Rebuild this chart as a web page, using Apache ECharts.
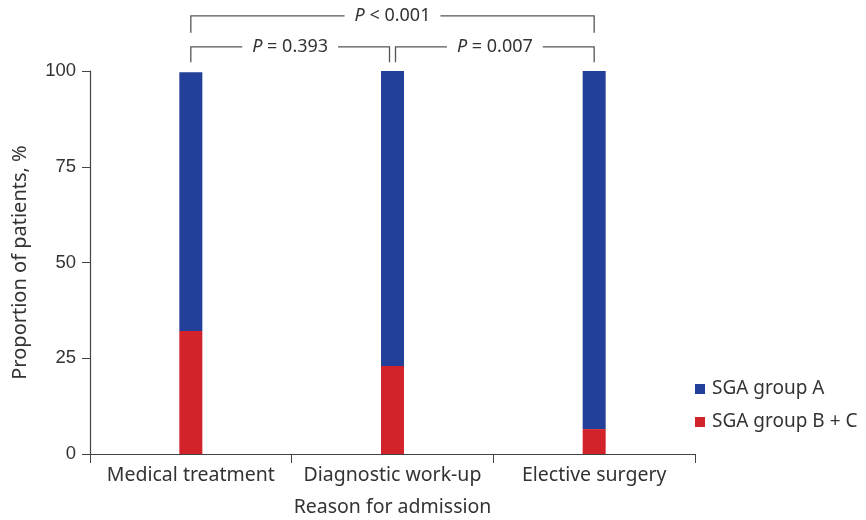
<!DOCTYPE html>
<html>
<head>
<meta charset="utf-8">
<script src="https://cdn.jsdelivr.net/npm/echarts@6/dist/echarts.min.js"></script>
<style>html,body{margin:0;padding:0;background:#fff;overflow:hidden}#c{width:866px;height:520px}</style>
</head>
<body>
<div id="c"></div>
<script>
const categories = ['Medical treatment', 'Diagnostic work-up', 'Elective surgery'];
const groupA = [67.6, 77.0, 93.5];
const groupBC = [32.1, 23.0, 6.5];
const yTicks = [0, 25, 50, 75, 100];
const comparisons = [
  { from: 0, to: 1, label: ' = 0.393', level: 1 },
  { from: 1, to: 2, label: ' = 0.007', level: 1 },
  { from: 0, to: 2, label: ' < 0.001', level: 2 }
];

const FONT = 'Noto Sans';
const chart = echarts.init(document.getElementById('c'), null, { renderer: 'canvas' });
chart.setOption({
  animation: false,
  textStyle: { fontFamily: FONT },
  grid: { left: 90, right: 171, top: 71, bottom: 66, containLabel: false, outerBoundsMode: 'none' },
  legend: {
    orient: 'vertical', left: 690, top: 373,
    itemWidth: 10, itemHeight: 10, itemGap: 11,
    icon: 'rect',
    data: ['SGA group A', 'SGA group B + C'],
    textStyle: { fontSize: 19, color: '#333', fontFamily: FONT, lineHeight: 22, padding: [0, 0, 0, 2] }
  },
  xAxis: {
    type: 'category', data: categories,
    name: 'Reason for admission', nameLocation: 'middle', nameGap: 42,
    nameTextStyle: { fontSize: 19.5, color: '#333', fontFamily: FONT, lineHeight: 22 },
    axisLine: { lineStyle: { color: '#444', width: 1.2 } },
    axisTick: { show: true, length: 9, lineStyle: { color: '#444' } },
    axisLabel: { fontSize: 19.5, color: '#333', margin: 11, fontFamily: FONT, interval: 0 }
  },
  yAxis: {
    type: 'value', min: 0, max: 100, interval: 25,
    name: 'Proportion of patients, %', nameLocation: 'middle', nameGap: 60,
    nameTextStyle: { fontSize: 20, color: '#333', fontFamily: FONT },
    axisLine: { show: true, lineStyle: { color: '#444', width: 1.2 } },
    axisTick: { show: true, length: 8, lineStyle: { color: '#444' } },
    axisLabel: { fontSize: 18.5, color: '#333', margin: 14, fontFamily: 'Liberation Sans',
      formatter: v => yTicks.includes(v) ? String(v) : '' },
    splitLine: { show: false }
  },
  series: [
    { name: 'SGA group B + C', type: 'bar', stack: 's', barWidth: 23, data: groupBC, itemStyle: { color: '#D2232A' } },
    { name: 'SGA group A', type: 'bar', stack: 's', barWidth: 23, data: groupA, itemStyle: { color: '#22409A' } }
  ]
});

// brackets
const els = [];
const lineStyle = { stroke: '#555', lineWidth: 1.3 };
const levelY = { 1: [106.3, 102.3], 2: [114.4, 110.0] };
comparisons.forEach(c => {
  let x1 = chart.convertToPixel({ xAxisIndex: 0 }, categories[c.from]);
  let x2 = chart.convertToPixel({ xAxisIndex: 0 }, categories[c.to]);
  if (c.level === 1) {
    if (c.from === 1) x1 += 3;
    if (c.to === 1) x2 -= 3;
  }
  const yTop = chart.convertToPixel({ yAxisIndex: 0 }, levelY[c.level][0]);
  const yBot = chart.convertToPixel({ yAxisIndex: 0 }, levelY[c.level][1]);
  els.push({ type: 'polyline', shape: { points: [[x1, yBot], [x1, yTop], [x2, yTop], [x2, yBot]] }, style: Object.assign({ fill: null }, lineStyle), z: 10 });
  els.push({
    type: 'text', x: (x1 + x2) / 2, y: yTop, z: 11,
    style: {
      text: '{i|P}{n|' + c.label + '}', align: 'center', verticalAlign: 'middle',
      backgroundColor: '#fff', padding: [2, 10, 2, 10],
      rich: {
        i: { fontStyle: 'italic', fontSize: 18, fill: '#333', fontFamily: FONT },
        n: { fontSize: 18, fill: '#333', fontFamily: FONT }
      }
    }
  });
});
chart.setOption({ graphic: els });
</script>
</body>
</html>
